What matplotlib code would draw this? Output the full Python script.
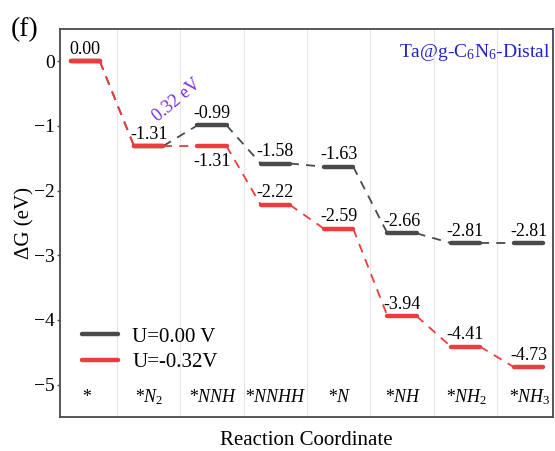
import matplotlib.pyplot as plt

plt.rcParams['font.family'] = ['Liberation Serif', 'DejaVu Serif']
plt.rcParams['mathtext.fontset'] = 'custom'
plt.rcParams['mathtext.rm'] = 'Liberation Serif'
plt.rcParams['mathtext.it'] = 'Liberation Serif:italic'

# reaction steps and free energies (eV)
steps = ['*', '*$N_2$', '*$NNH$', '*$NNHH$', '*$N$', '*$NH$', '*$NH_2$', '*$NH_3$']
G_U0 = [0.00, -1.31, -0.99, -1.58, -1.63, -2.66, -2.81, -2.81]
G_U032 = [0.00, -1.31, -1.31, -2.22, -2.59, -3.94, -4.41, -4.73]
# which labels of the red series go below the level
below_red = [False, False, True, False, False, False, False, False]
show_gray = [False, False, True, True, True, True, True, True]

gray = '#4a4a4a'
red = '#ee3b3b'
hw = 0.23

fig = plt.figure(figsize=(5.55, 4.51), dpi=100)
ax = fig.add_axes([0.108, 0.0754, 0.888, 0.8603])


def draw(G, color, label, labels_on, below=None):
    for i, g in enumerate(G):
        ax.plot([i - hw, i + hw], [g, g], color=color, lw=3.2,
                solid_capstyle='round', zorder=3,
                label=label if i == 0 else None)
        if i < len(G) - 1:
            ax.plot([i + hw, i + 1 - hw], [g, G[i + 1]], color=color, lw=1.3,
                    ls=(0, (5, 4)), zorder=2)
        if labels_on[i]:
            if below is not None and below[i]:
                ax.annotate('%.2f' % g, (i, g), xytext=(0, -5),
                            textcoords='offset points', ha='center', va='top',
                            fontsize=13, zorder=5)
            else:
                ax.annotate('%.2f' % g, (i, g), xytext=(0, 2.5),
                            textcoords='offset points', ha='center', va='bottom',
                            fontsize=13, zorder=5)


draw(G_U0, gray, 'U=0.00 V', show_gray)
draw(G_U032, red, 'U=-0.32V', [True] * len(steps), below_red)

for i, s in enumerate(steps):
    ax.text(i, -5.2, s, ha='center', va='center', fontsize=13, style='italic')

for i in range(len(steps) - 1):
    ax.axvline(i + 0.5, color='#e6e6e6', lw=0.8, zorder=0)

ax.text(1.44, -0.6, '0.32 eV', color='#7a2be0', fontsize=13, rotation=40,
        ha='center', va='center')
ax.text(0.995, 0.94, 'Ta@g-C$_6$N$_6$-Distal', color='#2222cc', fontsize=14,
        ha='right', va='center', transform=ax.transAxes)
fig.text(0.02, 0.935, '(f)', fontsize=20, ha='left', va='center')

ax.set_xlim(-0.4, 7.38)
ax.set_ylim(-5.5, 0.5)
ax.set_yticks([0, -1, -2, -3, -4, -5])
ax.set_yticklabels(['0', '\u22121', '\u22122', '\u22123', '\u22124', '\u22125'])
ax.set_xticks([])
ax.tick_params(axis='y', labelsize=14, length=2.5, width=1, color=gray, pad=1)
for sp in ax.spines.values():
    sp.set_color(gray)
    sp.set_linewidth(1.3)

ax.set_ylabel('\u0394G (eV)', fontsize=15, labelpad=0)
ax.set_xlabel('Reaction Coordinate', fontsize=15, labelpad=10)

ax.legend(loc='lower left', bbox_to_anchor=(0.045, 0.115), frameon=False,
          fontsize=15, handlelength=1.7, handletextpad=0.7, borderaxespad=0,
          borderpad=0, labelspacing=0.3)

fig.savefig('out.png', dpi=100)
